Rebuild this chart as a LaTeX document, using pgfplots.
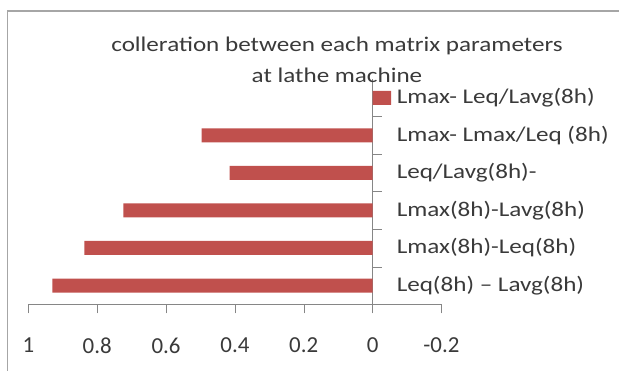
\documentclass[border=0pt]{standalone}
\usepackage{pgfplots}
\pgfplotsset{compat=1.18}
\usepackage{fontspec}
\setmainfont{Carlito}
\newfontfamily\widefont[FakeStretch=1.2]{Carlito}
\definecolor{barred}{HTML}{C0504D}
\definecolor{txt}{HTML}{3A3A3A}
\definecolor{axgray}{HTML}{868686}
\begin{document}
\begin{tikzpicture}[x=1bp,y=1bp]
\path[use as bounding box] (0,0) rectangle (619,370);
\draw[gray!70, line width=1.5bp] (7.5,-5) -- (7.5,359) -- (625,359);
\begin{axis}[
  at={(28.4bp,65.7bp)}, anchor=south west,
  scale only axis, width=413bp, height=225.3bp,
  x dir=reverse,
  xmin=-0.2, xmax=1, ymin=-0.5, ymax=5.5,
  axis x line=bottom, axis y line=middle,
  axis line style={-, axgray},
  hide obscured x ticks=false, hide obscured y ticks=false,
  xbar, bar width=14bp,
  xtick={-0.2,0,0.2,0.4,0.6,0.8,1},
  xticklabels={-0.2,0,0.2,0.4,0.6,0.8,1},
  x tick style={axgray}, tick align=outside, major tick length=9bp,
  xticklabel style={font=\fontsize{23}{26}\selectfont, text=txt, yshift=-21bp},
  ytick={0,1,2,3,4,5},
  yticklabels={Leq(8h) – Lavg(8h),Lmax(8h)-Leq(8h),Lmax(8h)-Lavg(8h),Leq/Lavg(8h)-,Lmax- Lmax/Leq (8h),Lmax- Leq/Lavg(8h)},
  y tick style={draw=none},
  yticklabel style={font=\widefont\fontsize{21}{24}\selectfont, text=txt, anchor=west, inner sep=0pt, xshift=33bp},
  /pgf/number format/assume math mode=true,
]
\addplot[fill=barred, draw=none] coordinates {(0.93,0) (0.837,1) (0.724,2) (0.415,3) (0.497,4) (-0.054,5)};
\draw[axgray] (axis cs:0,0.5) -- ([xshift=9bp]axis cs:0,0.5);
\draw[axgray] (axis cs:0,1.5) -- ([xshift=9bp]axis cs:0,1.5);
\draw[axgray] (axis cs:0,2.5) -- ([xshift=9bp]axis cs:0,2.5);
\draw[axgray] (axis cs:0,3.5) -- ([xshift=9bp]axis cs:0,3.5);
\draw[axgray] (axis cs:0,4.5) -- ([xshift=9bp]axis cs:0,4.5);
\end{axis}
\node[align=center, font=\widefont\fontsize{21}{31}\selectfont, text=txt] at (337,310) {colleration between each matrix parameters\\at lathe machine};
\end{tikzpicture}
\end{document}
